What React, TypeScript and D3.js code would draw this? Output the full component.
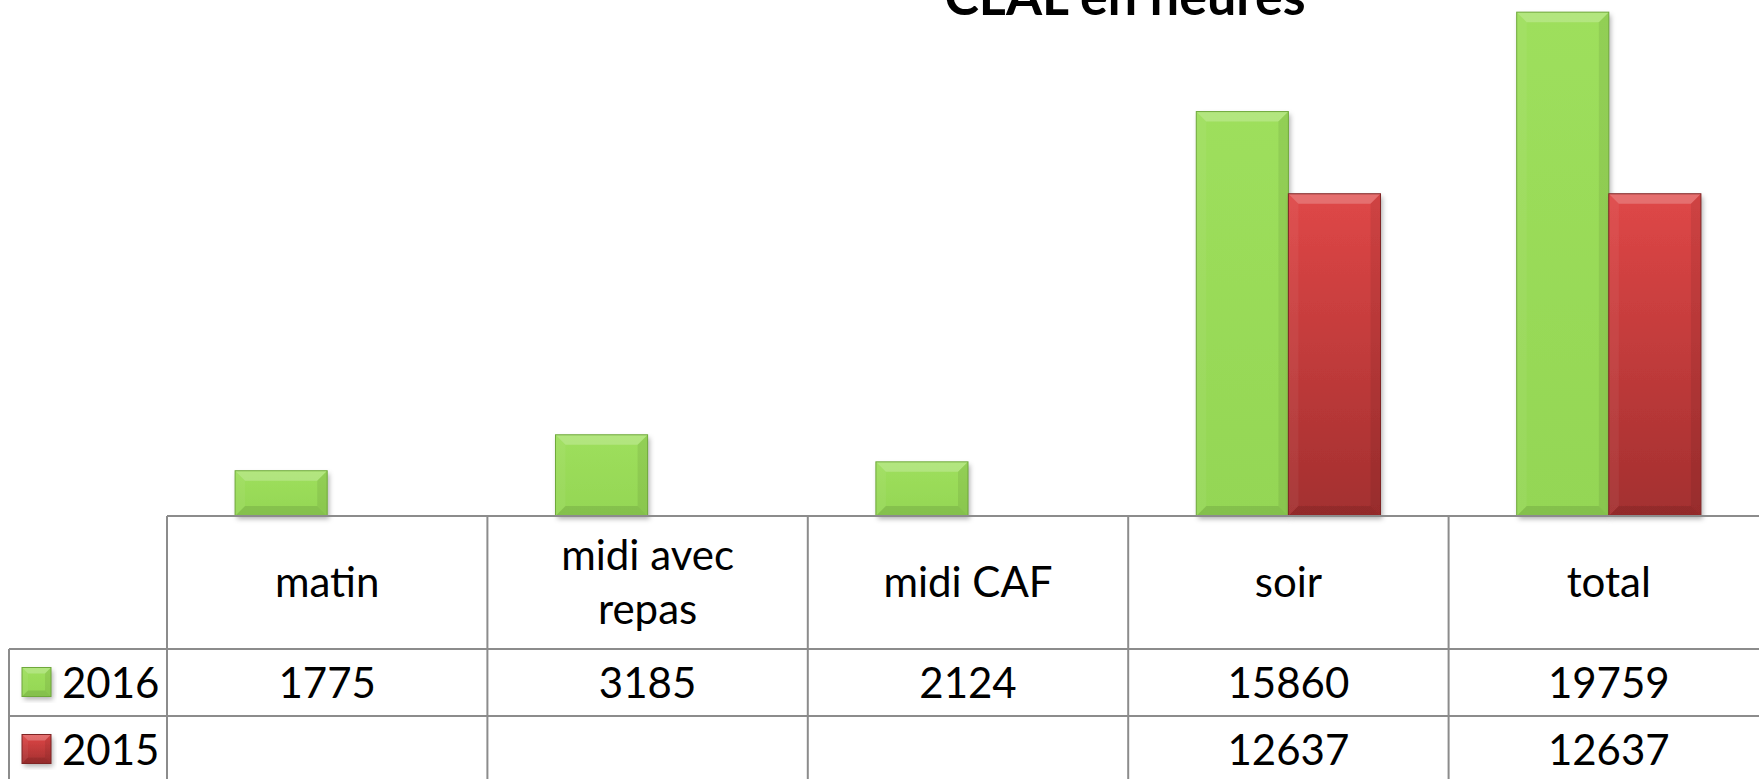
import { useEffect, useRef } from 'react'
import * as d3 from 'd3'

const categories = ['matin', 'midi avec repas', 'midi CAF', 'soir', 'total']
const categoryLines = [['matin'], ['midi avec', 'repas'], ['midi CAF'], ['soir'], ['total']]
const seriesNames = ['2016', '2015']
const values2016 = [1775, 3185, 2124, 15860, 19759]
const values2015: (number | null)[] = [null, null, null, 12637, 12637]
const titleText = 'CLAL en heures'

const W = 1759
const H = 779
const FONT = 'Lato, "Open Sans", sans-serif'

export default function App() {
  const ref = useRef<SVGSVGElement>(null)

  useEffect(() => {
    if (!ref.current) return
    const svg = d3.select(ref.current)
    svg.selectAll('*').remove()

    const baseY = 516
    const headerBottom = 649
    const rowH = 67
    const tableLeft = 9
    const lineColor = '#8c8c8c'

    const colors: Record<string, { top: string; bottom: string; stroke: string }> = {
      '2016': { top: '#9edf5c', bottom: '#94d655', stroke: '#6ea83a' },
      '2015': { top: '#df4747', bottom: '#a32f2f', stroke: '#7f2424' }
    }

    const defs = svg.append('defs')
    seriesNames.forEach(s => {
      const g = defs.append('linearGradient')
        .attr('id', `grad-${s}`)
        .attr('x1', 0).attr('y1', 0).attr('x2', 0).attr('y2', 1)
      g.append('stop').attr('offset', '0%').attr('stop-color', colors[s].top)
      g.append('stop').attr('offset', '100%').attr('stop-color', colors[s].bottom)
    })
    defs.append('filter')
      .attr('id', 'shadow')
      .attr('x', '-10%').attr('y', '-10%').attr('width', '130%').attr('height', '130%')
      .append('feDropShadow')
      .attr('dx', 2).attr('dy', 3).attr('stdDeviation', 2.5)
      .attr('flood-color', '#000').attr('flood-opacity', 0.3)

    // Scales
    const x = d3.scaleBand()
      .domain(categories)
      .range([167, 1769])
      .padding(0)

    const groupW = x.bandwidth() * 0.575
    const xs = d3.scaleBand()
      .domain(seriesNames)
      .range([(x.bandwidth() - groupW) / 2, (x.bandwidth() + groupW) / 2])
      .padding(0)

    const y = d3.scaleLinear()
      .domain([0, 20000])
      .range([baseY, 6])

    const bevelBar = (
      parent: d3.Selection<SVGGElement, unknown, null, undefined>,
      bx: number, by: number, bw: number, bh: number, s: string, b: number
    ) => {
      const g = parent.append('g')
      g.append('rect')
        .attr('x', bx).attr('y', by).attr('width', bw).attr('height', bh)
        .attr('fill', `url(#grad-${s})`)
        .attr('filter', 'url(#shadow)')
      const pts = (p: number[][]) => p.map(q => q.join(',')).join(' ')
      // top bevel
      g.append('polygon')
        .attr('points', pts([[bx, by], [bx + bw, by], [bx + bw - b, by + b], [bx + b, by + b]]))
        .attr('fill', '#fff').attr('opacity', 0.22)
      // left bevel
      g.append('polygon')
        .attr('points', pts([[bx, by], [bx + b, by + b], [bx + b, by + bh - b], [bx, by + bh]]))
        .attr('fill', '#fff').attr('opacity', 0.05)
      // right bevel
      g.append('polygon')
        .attr('points', pts([[bx + bw, by], [bx + bw - b, by + b], [bx + bw - b, by + bh - b], [bx + bw, by + bh]]))
        .attr('fill', '#000').attr('opacity', 0.07)
      // bottom bevel
      g.append('polygon')
        .attr('points', pts([[bx, by + bh], [bx + bw, by + bh], [bx + bw - b, by + bh - b], [bx + b, by + bh - b]]))
        .attr('fill', '#000').attr('opacity', 0.1)
      g.append('rect')
        .attr('x', bx).attr('y', by).attr('width', bw).attr('height', bh)
        .attr('fill', 'none')
        .attr('stroke', colors[s].stroke)
        .attr('stroke-width', 1)
    }

    // Title (cut off at the top, as in the source)
    svg.append('text')
      .attr('x', 1125)
      .attr('y', 15)
      .attr('text-anchor', 'middle')
      .attr('font-family', FONT)
      .attr('font-weight', 'bold')
      .attr('font-size', 52)
      .attr('fill', '#000')
      .text(titleText)

    // Bars
    const barsG = svg.append('g')
    const seriesValues: Record<string, (number | null)[]> = { '2016': values2016, '2015': values2015 }
    seriesNames.forEach(s => {
      categories.forEach((c, i) => {
        const v = seriesValues[s][i]
        if (v == null) return
        const bx = (x(c) as number) + (xs(s) as number)
        const by = y(v)
        bevelBar(barsG, bx, by, xs.bandwidth(), y(0) - by, s, 10)
      })
    })

    // Data table
    const table = svg.append('g')
      .attr('stroke', lineColor)
      .attr('stroke-width', 2)
      .attr('fill', 'none')

    const x0 = x.range()[0]
    const x1 = x.range()[1]
    table.append('line').attr('x1', x0).attr('x2', x1).attr('y1', baseY).attr('y2', baseY)
    ;[0, 1, 2].forEach(r => {
      const yy = headerBottom + r * rowH
      table.append('line').attr('x1', tableLeft).attr('x2', x1).attr('y1', yy).attr('y2', yy)
    })
    table.append('line').attr('x1', tableLeft).attr('x2', tableLeft).attr('y1', headerBottom).attr('y2', H + 10)
    categories.forEach(c => {
      const xx = x(c) as number
      table.append('line').attr('x1', xx).attr('x2', xx).attr('y1', baseY).attr('y2', H + 10)
    })
    table.append('line').attr('x1', x1).attr('x2', x1).attr('y1', baseY).attr('y2', H + 10)

    const txt = svg.append('g')
      .attr('font-family', FONT)
      .attr('font-size', 42)
      .attr('fill', '#000')

    // Header labels
    const headerMid = (baseY + headerBottom) / 2
    categories.forEach((c, i) => {
      const lines = categoryLines[i]
      const cx = (x(c) as number) + x.bandwidth() / 2
      const lh = 54
      lines.forEach((ln, k) => {
        txt.append('text')
          .attr('x', cx)
          .attr('y', headerMid + (k - (lines.length - 1) / 2) * lh)
          .attr('dy', '0.35em')
          .attr('text-anchor', 'middle')
          .text(ln)
      })
    })

    // Rows
    seriesNames.forEach((s, r) => {
      const cy = headerBottom + r * rowH + rowH / 2
      bevelBar(svg.append('g'), 22, cy - 15, 29, 29, s, 6)
      txt.append('text')
        .attr('x', 62)
        .attr('y', cy)
        .attr('dy', '0.36em')
        .text(s)
      categories.forEach((c, i) => {
        const v = seriesValues[s][i]
        if (v == null) return
        txt.append('text')
          .attr('x', (x(c) as number) + x.bandwidth() / 2)
          .attr('y', cy)
          .attr('dy', '0.36em')
          .attr('text-anchor', 'middle')
          .text(String(v))
      })
    })
  }, [])

  return (
    <svg
      ref={ref}
      width={W}
      height={H}
      style={{ position: 'absolute', left: 0, top: 0, background: '#fff' }}
    />
  )
}
